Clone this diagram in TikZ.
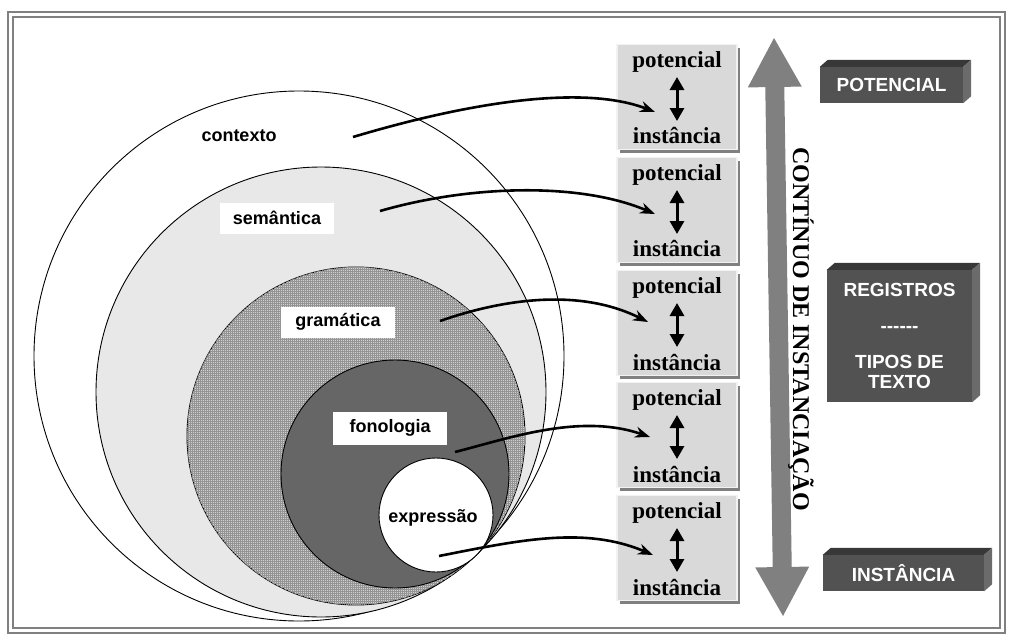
\documentclass[tikz,border=0pt]{standalone}
\usepackage{fontspec}
\setmainfont{Liberation Serif}
\setsansfont{Liberation Sans}
\usetikzlibrary{arrows.meta,patterns.meta,shadows}

\begin{document}
\begin{tikzpicture}[x=1pt,y=-1pt,
  frameline/.style={draw=black!50,line width=2pt},
  ring/.style={draw=black,line width=0.9pt},
  tag/.style={font=\sffamily\bfseries\fontsize{18}{20}\selectfont,inner sep=0pt},
  tagbox/.style={tag,fill=white,minimum width=114pt,minimum height=31pt},
  pbox/.style={fill=black!15,draw=black!5,line width=1.2pt,minimum width=120pt,
    minimum height=105pt,inner sep=0pt,
    drop shadow={shadow xshift=3pt,shadow yshift=-3pt,fill=black!50,opacity=1}},
  ptext/.style={font=\bfseries\fontsize{23}{25}\selectfont,inner sep=0pt},
  updown/.style={{Triangle[width=14pt,length=13pt]}-{Triangle[width=14pt,length=13pt]},line width=3pt},
  link/.style={-{Stealth[length=15pt,width=11pt]},line width=2.6pt},
  bigarrow/.style={{Triangle[width=50pt,length=50pt]}-{Triangle[width=50pt,length=50pt]},
    line width=19pt,draw=black!50},
  block/.style={fill=black!68,text=white,font=\sffamily\bfseries\fontsize{19}{20}\selectfont,
    inner sep=0pt,align=center},
  blocktop/.style={fill=black!78},
  blockside/.style={fill=black!58},
]
\useasboundingbox (0,0) rectangle (1011,637);
\fill[white] (0,0) rectangle (1011,637);

% double frame
\draw[frameline] (8,12) rectangle (1005,633);
\draw[frameline] (13,17) rectangle (1000,628);

% nested strata, all meeting near the lower right
\draw[ring,fill=white] (299,356) circle[radius=265];
\draw[ring,fill=black!9] (321,392) circle[radius=225];
\draw[ring,fill=black!18,
  postaction={pattern={Hatch[angle=0,distance=2pt,line width=0.45pt]},pattern color=black!42}]
  (356,436) circle[radius=169];
\draw[ring,fill=black!60] (395,474) circle[radius=114];
\draw[ring,fill=white] (436,515) circle[radius=57];

% stratum labels
\node[tag] (contexto) at (239,136) {contexto};
\node[tagbox] (semantica) at (277,218) {semântica};
\node[tagbox] (gramatica) at (338,322) {gramática};
\node[tagbox,minimum height=33pt] (fonologia) at (390,428) {fonologia};
\node[tag] (expressao) at (433,518) {expressão};

% potencial / instancia boxes
\foreach \i/\t in {1/45,2/158,3/271,4/383,5/496}{
  \node[pbox] (box\i) at (677,\t+52) {};
  \node[ptext] (pot\i) at (677,\t+17) {potencial};
  \node[ptext] (ins\i) at (677,\t+91) {instância};
  \coordinate (up\i) at (677,\t+32);
  \coordinate (dn\i) at (677,\t+76);
  \draw[updown] (up\i) -- (dn\i);
}

% links from strata to boxes
\coordinate (s1) at (353,137); \coordinate (e1) at (655,112);
\coordinate (s2) at (380,211); \coordinate (e2) at (655,214);
\coordinate (s3) at (440,321); \coordinate (e3) at (648,322);
\coordinate (s4) at (455,452); \coordinate (e4) at (650,437);
\coordinate (s5) at (439,556); \coordinate (e5) at (653,555);
\draw[link] (s1) .. controls (460,105) and (580,83) .. (e1);
\draw[link] (s2) .. controls (470,185) and (580,182) .. (e2);
\draw[link] (s3) .. controls (500,300) and (578,287) .. (e3);
\draw[link] (s4) .. controls (510,438) and (580,413) .. (e4);
\draw[link] (s5) .. controls (520,540) and (585,526) .. (e5);

% continuum arrow
\coordinate (ctop) at (774,37);
\coordinate (cbot) at (783,617);
\draw[bigarrow] (ctop) -- (cbot);
\node[rotate=-90,font=\bfseries\fontsize{24}{26}\selectfont,inner sep=0pt] (continuo)
  at (801,329) {CONTÍNUO DE INSTANCIAÇÃO};

% 3D blocks
\node[block,minimum width=143pt,minimum height=36pt] (bpot) at (891.5,85) {POTENCIAL};
\node[block,minimum width=145pt,minimum height=132pt] (breg) at (899.5,336)
  {REGISTROS\\[16pt]-{}-{}-{}-{}-{}-\\[16pt]TIPOS DE\\TEXTO};
\node[block,minimum width=161pt,minimum height=36pt] (bins) at (903.5,573) {INSTÂNCIA};
\foreach \b in {bpot,breg,bins}{
  \fill[blocktop] (\b.north west) -- ++(8,-7) -- ([shift={(8,-7)}]\b.north east)
    -- (\b.north east) -- cycle;
  \fill[blockside] (\b.north east) -- ([shift={(8,-7)}]\b.north east)
    -- ([shift={(8,-7)}]\b.south east) -- (\b.south east) -- cycle;
}
\end{tikzpicture}
\end{document}
